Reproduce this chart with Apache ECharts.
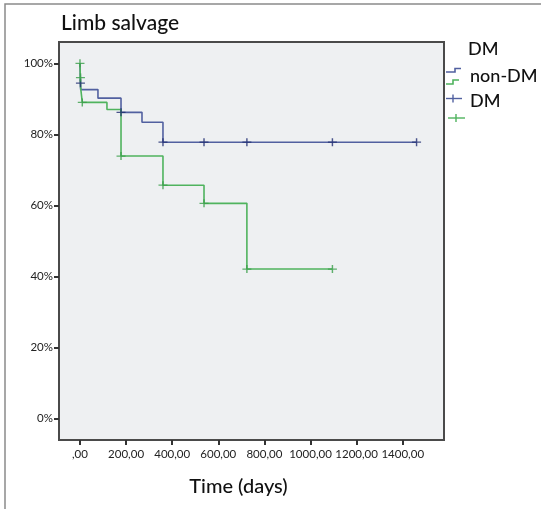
<!DOCTYPE html>
<html><head><meta charset="utf-8">
<script src="https://cdn.jsdelivr.net/npm/echarts@6/dist/echarts.min.js"></script>
<style>html,body{margin:0;padding:0;background:#fff}#c{width:541px;height:509px}</style>
</head><body><div id="c"></div>
<script>
// ---- data ----
const xTicks = [0, 200, 400, 600, 800, 1000, 1200, 1400];
const yTicks = [0, 20, 40, 60, 80, 100];
const nonDmTime = [0, 3, 78, 178, 269, 360, 1460];
const nonDmSurv = [100, 92.6, 90.2, 86.2, 83.4, 77.8, 77.8];
const dmTime = [0, 3, 10, 117, 178, 360, 538, 724, 1095];
const dmSurv = [100, 93, 89, 87, 73.9, 65.7, 60.6, 42.1, 42.1];
const nonDmCensorTime = [2, 178, 360, 538, 724, 1095, 1460];
const nonDmCensorSurv = [94.4, 86.2, 77.8, 77.8, 77.8, 77.8, 77.8];
const dmCensorTime = [0, 2, 10, 178, 360, 538, 724, 1095];
const dmCensorSurv = [100, 96, 89, 73.9, 65.7, 60.6, 42.1, 42.1];

const zip = (a, b) => a.map((v, i) => [v, b[i]]);
const plus = 'path://M-0.8,-5 L0.8,-5 L0.8,-0.8 L5,-0.8 L5,0.8 L0.8,0.8 L0.8,5 L-0.8,5 L-0.8,0.8 L-5,0.8 L-5,-0.8 L-0.8,-0.8 Z';
const BLUE = '#5160a0', BLUE_D = '#1f2c70', GREEN = '#4fb35e', GREEN_D = '#3a9f4a';
const FONT = 'Lato, "Open Sans", sans-serif';

const chart = echarts.init(document.getElementById('c'), null, {renderer: 'canvas'});
chart.setOption({
  animation: false,
  backgroundColor: '#fff',
  title: {text: 'Limb salvage', left: 56, top: 8,
    textStyle: {fontFamily: FONT, fontSize: 21, fontWeight: 500, color: '#111'}},
  grid: {left: 59, top: 42, right: 97, bottom: 69, show: true,
    backgroundColor: '#eef0f2', borderColor: '#4a4a4a', borderWidth: 2},
  xAxis: {type: 'value', min: -91, max: 1579,
    axisLine: {show: false, onZero: false}, splitLine: {show: false},
    axisTick: {show: true, length: 5, customValues: xTicks, lineStyle: {color: '#333', width: 2}},
    axisLabel: {customValues: xTicks, margin: 8, fontFamily: FONT, fontSize: 11.5, color: '#222',
      formatter: v => v === 0 ? ',00' : v + ',00'},
    name: 'Time (days)', nameLocation: 'middle', nameGap: 37,
    nameTextStyle: {fontFamily: FONT, fontSize: 20, fontWeight: 500, color: '#111', padding: [0, 26, 0, 0]}},
  yAxis: {type: 'value', min: -6, max: 106,
    axisLine: {show: false, onZero: false}, splitLine: {show: false},
    axisTick: {show: true, length: 5, customValues: yTicks, lineStyle: {color: '#333', width: 2}},
    axisLabel: {customValues: yTicks, margin: 6, fontFamily: FONT, fontSize: 11.5, color: '#222',
      formatter: v => v + '%'}},
  series: [
    {type: 'line', name: 'non-DM', step: 'end', data: zip(nonDmTime, nonDmSurv), showSymbol: false,
      lineStyle: {color: BLUE, width: 1.6}, z: 2},
    {type: 'line', name: 'DM', step: 'end', data: zip(dmTime, dmSurv), showSymbol: false,
      lineStyle: {color: GREEN, width: 1.6}, z: 3},
    {type: 'scatter', name: 'non-DM censored', data: zip(nonDmCensorTime, nonDmCensorSurv),
      symbol: plus, symbolSize: [9, 8], itemStyle: {color: BLUE_D}, z: 4},
    {type: 'scatter', name: 'DM censored', data: zip(dmCensorTime, dmCensorSurv),
      symbol: plus, symbolSize: [9, 8], itemStyle: {color: GREEN_D}, z: 5}
  ],
  graphic: [
    {type: 'polyline', shape: {points: [[5, 520], [5, 4], [545, 4]]}, style: {stroke: '#8a8a8a', lineWidth: 1.5, fill: null}},
    {type: 'text', left: 468, top: 40, style: {text: 'DM', fontFamily: FONT, fontSize: 18, fontWeight: 500, fill: '#111'}},
    {type: 'text', left: 470, top: 67, style: {text: 'non-DM', fontFamily: FONT, fontSize: 18, fontWeight: 500, fill: '#111'}},
    {type: 'text', left: 470, top: 92, style: {text: 'DM', fontFamily: FONT, fontSize: 18, fontWeight: 500, fill: '#111'}},
    {type: 'polyline', shape: {points: [[446, 72], [455, 72], [455, 68.5], [461, 68.5]]}, style: {stroke: BLUE, lineWidth: 1.6, fill: null}},
    {type: 'polyline', shape: {points: [[446, 84], [453, 84], [453, 80], [459, 80]]}, style: {stroke: GREEN, lineWidth: 1.6, fill: null}},
    {type: 'polyline', shape: {points: [[446, 98.5], [462, 98.5]]}, style: {stroke: BLUE, lineWidth: 1.4, fill: null}},
    {type: 'polyline', shape: {points: [[453, 94.5], [453, 102.5]]}, style: {stroke: BLUE, lineWidth: 1.4, fill: null}},
    {type: 'polyline', shape: {points: [[448, 118], [465, 118]]}, style: {stroke: GREEN, lineWidth: 1.4, fill: null}},
    {type: 'polyline', shape: {points: [[456, 114], [456, 122]]}, style: {stroke: GREEN, lineWidth: 1.4, fill: null}}
  ]
});
</script></body></html>
